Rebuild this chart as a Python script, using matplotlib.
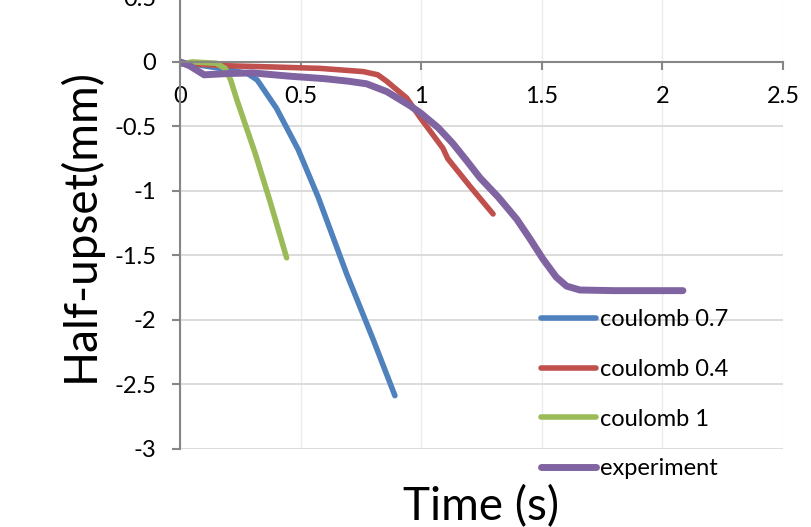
import numpy as np
import matplotlib.pyplot as plt

plt.rcParams['font.family'] = ['Lato', 'DejaVu Sans']
plt.rcParams['axes.unicode_minus'] = False

# data (time in s, half-upset in mm)
t_c07 = [0, 0.10, 0.20, 0.28, 0.32, 0.40, 0.49, 0.573, 0.692, 0.80, 0.891]
u_c07 = [0, -0.03, -0.06, -0.09, -0.14, -0.36, -0.68, -1.05, -1.65, -2.15, -2.59]

t_c04 = [0, 0.10, 0.20, 0.40, 0.58, 0.76, 0.82, 0.857, 0.94, 0.995, 1.09, 1.11, 1.20, 1.298]
u_c04 = [-0.01, -0.02, -0.03, -0.04, -0.05, -0.075, -0.10, -0.15, -0.28, -0.43, -0.67, -0.75, -0.96, -1.18]

t_c1 = [0, 0.05, 0.15, 0.187, 0.21, 0.235, 0.31, 0.373, 0.442]
u_c1 = [-0.02, 0, -0.01, -0.05, -0.14, -0.29, -0.70, -1.08, -1.52]

t_exp = [0, 0.04, 0.10, 0.20, 0.30, 0.45, 0.60, 0.70, 0.774, 0.857, 0.954, 1.0, 1.07, 1.13, 1.19,
         1.244, 1.32, 1.396, 1.45, 1.505, 1.56, 1.603, 1.658, 1.80, 2.085]
u_exp = [0, -0.03, -0.10, -0.09, -0.085, -0.11, -0.13, -0.15, -0.17, -0.23, -0.34, -0.40, -0.51,
         -0.63, -0.77, -0.90, -1.05, -1.22, -1.37, -1.53, -1.67, -1.74, -1.77, -1.775, -1.775]

series = [
    (t_c07, u_c07, 'coulomb 0.7', '#4F81BD', 4.0),
    (t_c04, u_c04, 'coulomb 0.4', '#C0504D', 4.0),
    (t_c1, u_c1, 'coulomb 1', '#9BBB59', 4.0),
    (t_exp, u_exp, 'experiment', '#8064A2', 5.0),
]

xticks = [0, 0.5, 1, 1.5, 2, 2.5]
yticks = [-3, -2.5, -2, -1.5, -1, -0.5, 0, 0.5]

fig = plt.figure(figsize=(8.11, 5.27), dpi=100)
ax = fig.add_axes([180/811, 1 - 448.5/527, 603/811, 451/527])

for t, u, lab, col, lw in series:
    ax.plot(t, u, color=col, lw=lw, label=lab, solid_capstyle='round', solid_joinstyle='round')

ax.set_xlim(0, 2.5)
ax.set_ylim(-3, 0.5)
ax.set_xticks(xticks)
ax.set_xticklabels(['%g' % v for v in xticks])
ax.set_yticks(yticks)
ax.set_yticklabels(['%g' % v for v in yticks])

ax.spines['top'].set_visible(False)
ax.spines['right'].set_visible(False)
ax.spines['bottom'].set_position(('data', 0))
for s in ['left', 'bottom']:
    ax.spines[s].set_color('#868686')
    ax.spines[s].set_linewidth(1.5)
ax.tick_params(axis='both', direction='out', length=6, width=1.5, color='#868686',
               labelsize=17, pad=11)

ax.yaxis.grid(True, color='#d9d9d9', lw=1.3)
ax.xaxis.grid(True, color='#ececec', lw=1.0)
ax.set_axisbelow(True)

fig.text(481/811, 1 - 507/527, 'Time (s)', fontsize=33, ha='center', va='center')
fig.text(80/811, 1 - 225/527, 'Half-upset(mm)', fontsize=33, ha='center', va='center',
         rotation=90)

fig.legend(loc='upper left', bbox_to_anchor=(541/811, 1 - 309/527), frameon=False,
           fontsize=17, handlelength=2.35, handletextpad=0.15, labelspacing=1.22,
           borderpad=0, borderaxespad=0)

fig.savefig('out.png', dpi=100)
